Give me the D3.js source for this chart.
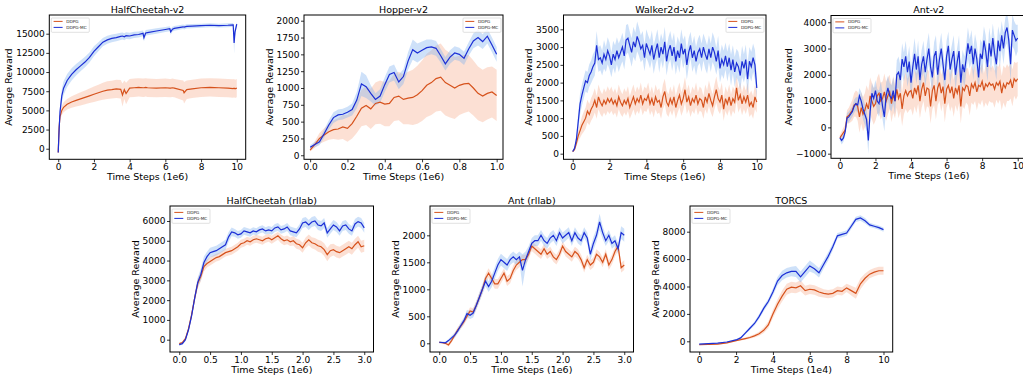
<!DOCTYPE html>
<html>
<head>
<meta charset="utf-8">
<script src="https://cdn.jsdelivr.net/npm/d3@7"></script>
<style>
  body { margin: 0; background: #fff; }
  svg { display: block; font-family: "DejaVu Sans", sans-serif; }
</style>
</head>
<body>
<svg id="chart" width="1023" height="375"></svg>
<script>
// ---- data ----
const seriesNames = ["DDPG", "DDPG-MC"];

// HalfCheetah-v2 (x in 1e6 steps)
const hcV2Steps = [0,0.05,0.1,0.2,0.3,0.5,0.75,1,1.25,1.5,1.75,2,2.25,2.5,2.75,3,3.25,3.5,3.6,3.7,3.8,4,4.25,4.5,4.75,4.8,4.9,5,5.5,6,6.25,6.3,6.4,6.5,7,7.05,7.2,7.5,8,8.5,9,9.5,9.8,9.85,9.9,10];
const hcV2Mc = [-500,2500,4800,6900,7900,8900,9700,10300,10800,11300,11900,12700,13300,13900,14200,14400,14500,14650,14700,14600,14750,14700,14850,14900,15050,14500,15100,15150,15350,15550,15650,15250,15600,15700,15900,15850,15950,16000,16050,16100,16050,16100,16150,13800,15200,16250];
const hcV2McSd = [100,500,800,900,900,850,800,750,700,680,660,650,600,550,520,500,480,460,450,450,430,420,400,400,380,500,380,360,350,320,320,400,320,300,300,300,280,280,260,260,250,250,250,1400,600,250];
const hcV2Ddpg = [-500,2800,4200,5000,5400,5800,6100,6300,6500,6700,6900,7100,7300,7500,7650,7700,7800,7750,7000,7700,7200,7900,7950,8000,7950,7950,8000,7950,7900,7950,7900,7900,7950,7900,7600,7300,7700,7800,7950,8000,7950,7900,7850,7900,7800,7900];
const hcV2DdpgSd = [100,400,500,600,650,700,750,800,850,900,950,1000,1050,1100,1150,1150,1200,1200,1500,1200,1400,1200,1200,1200,1200,1200,1200,1200,1200,1200,1200,1200,1200,1200,1300,1400,1200,1200,1200,1200,1200,1200,1200,1200,1200,1200];

// Hopper-v2
const hopperSteps = [0,0.025,0.05,0.075,0.1,0.125,0.15,0.175,0.2,0.225,0.25,0.275,0.3,0.325,0.35,0.375,0.4,0.425,0.45,0.475,0.5,0.525,0.55,0.575,0.6,0.625,0.65,0.675,0.7,0.725,0.75,0.775,0.8,0.825,0.85,0.875,0.9,0.925,0.95,0.975,1.0];
const hopperMc = [120,160,200,320,450,560,600,610,640,680,820,1060,1020,920,830,880,1050,1200,1230,1090,1170,1400,1570,1520,1560,1600,1610,1590,1480,1360,1460,1520,1500,1440,1580,1700,1750,1690,1770,1640,1500];
const hopperMcSd = [30,40,50,60,70,80,80,80,80,90,120,180,170,120,90,100,110,120,120,110,110,130,150,140,130,120,110,110,100,100,100,100,100,100,100,110,120,110,110,110,110];
const hopperDdpg = [75,160,250,300,350,380,390,420,400,470,580,700,740,690,770,790,760,770,860,880,830,850,860,900,960,1040,1080,1140,1160,1080,1040,1000,1040,1060,1070,1000,920,880,920,940,890];
const hopperDdpgSd = [20,50,80,100,120,140,160,180,200,220,250,270,290,300,310,320,330,340,350,360,370,390,410,430,450,470,480,490,500,490,480,460,440,430,420,410,400,390,390,380,380];

// shared grid for Walker2d-v2 and Ant-v2
const tenthSteps = [0,0.1,0.2,0.3,0.4,0.5,0.6,0.7,0.8,0.9,1,1.1,1.2,1.3,1.4,1.5,1.6,1.7,1.8,1.9,2,2.1,2.2,2.3,2.4,2.5,2.6,2.7,2.8,2.9,3,3.1,3.2,3.3,3.4,3.5,3.6,3.7,3.8,3.9,4,4.1,4.2,4.3,4.4,4.5,4.6,4.7,4.8,4.9,5,5.1,5.2,5.3,5.4,5.5,5.6,5.7,5.8,5.9,6,6.1,6.2,6.3,6.4,6.5,6.6,6.7,6.8,6.9,7,7.1,7.2,7.3,7.4,7.5,7.6,7.7,7.8,7.9,8,8.1,8.2,8.3,8.4,8.5,8.6,8.7,8.8,8.9,9,9.1,9.2,9.3,9.4,9.5,9.6,9.7,9.8,9.9,10];

// Walker2d-v2
const walkerMc = [60,150,400,900,1400,1650,1850,2050,2000,2200,
  2300,2450,2550,3050,2650,2700,2550,2800,2650,2900,
  2750,2500,2800,2650,2900,2700,2850,3000,2750,3200,
  3250,3050,2850,3150,3000,3300,3150,2950,3050,2700,
  3100,2950,2800,3050,2650,2900,3100,2700,3000,2800,
  3150,2600,2900,3050,2750,3000,2600,2900,2700,3100,
  2800,2950,2500,2850,3050,2700,2900,2600,2850,2950,
  2700,3000,2800,2650,2950,2700,3000,2850,2600,2900,
  2400,2650,2500,2750,2450,2700,2350,2650,2300,2550,
  2450,2200,2600,2400,2650,2100,2600,2450,2700,2500,
  1850];
const walkerMcSd = [30,60,150,250,300,300,300,300,300,320,
  320,350,350,400,350,350,350,400,350,380,
  380,350,380,400,380,400,380,400,380,420,
  400,380,400,420,400,420,400,380,400,380,
  400,380,400,420,400,380,400,420,380,400,
  420,400,380,400,420,400,380,400,420,400,
  400,380,420,400,380,400,420,400,380,400,
  400,380,420,400,380,400,420,400,380,420,
  400,420,400,380,420,400,440,400,420,400,
  420,400,440,400,420,450,400,420,400,420,
  300];
const walkerDdpg = [60,120,300,500,650,800,900,1000,1200,1100,
  1250,1350,1500,1300,1600,1450,1350,1500,1400,1550,
  1450,1550,1400,1500,1350,1600,1450,1350,1500,1400,
  1550,1300,1450,1600,1400,1550,1450,1650,1400,1550,
  1500,1650,1400,1550,1350,1600,1450,1500,1300,1600,
  1750,1450,1350,1550,1400,1600,1300,1500,1650,1400,
  1550,1800,1450,1600,1350,1550,1450,1650,1400,1550,
  1500,1300,1600,1450,1700,1500,1350,1600,1800,1550,
  1450,1650,1250,1550,1400,1600,1350,1550,1450,1850,
  1500,1650,1400,1600,1450,1650,1350,1450,1300,1600,
  1450];
const walkerDdpgSd = [20,40,100,150,200,250,280,300,320,300,
  320,330,340,320,350,330,320,340,330,350,
  330,340,320,340,330,350,330,320,340,330,
  350,320,340,350,330,340,330,350,320,340,
  330,350,320,340,330,350,330,340,320,350,
  360,330,320,340,330,350,320,340,350,330,
  340,360,330,350,320,340,330,350,320,340,
  330,320,350,330,360,340,320,350,370,340,
  330,350,320,340,330,350,320,340,330,360,
  340,350,320,340,330,350,320,330,320,340,
  300];

// Ant-v2
const antV2Mc = [-400,-500,-400,-150,350,400,500,600,800,900,
  850,1200,1000,700,500,300,-500,600,1300,1100,
  1400,1000,900,1300,800,400,1200,1500,1200,1100,
  1400,1000,2000,2100,1800,2600,2300,2700,2100,2500,
  1700,2300,2800,2200,2700,1800,2400,2700,2100,2600,
  3000,2300,1900,2700,2900,2000,2600,3000,2400,1800,
  2700,3100,2200,2600,2900,2000,2500,2900,1700,2400,
  2100,2600,3200,2800,3100,2400,3000,2600,1900,2800,
  2600,3300,2900,2300,3200,2700,3400,2800,2400,3300,
  2900,3500,3000,3600,3800,3300,2400,3700,3500,3300,
  3400];
const antV2McSd = [100,150,150,150,200,200,200,200,250,250,
  300,300,350,400,400,450,500,450,400,400,
  400,450,500,450,500,550,500,450,500,500,
  500,500,550,600,550,600,550,600,550,600,
  600,550,600,550,600,600,550,600,550,600,
  600,550,600,550,600,600,550,600,550,600,
  600,550,600,550,600,600,550,600,600,550,
  600,550,600,550,600,600,550,600,600,550,
  600,550,600,550,600,600,550,600,600,550,
  600,550,600,550,600,600,650,600,550,600,
  500];
const antV2Ddpg = [-400,-300,-200,-100,400,450,550,650,850,900,
  800,400,750,500,650,900,700,1200,1000,800,
  900,1200,1300,1000,1100,1350,1000,1200,1350,900,
  1250,1000,1450,1100,1300,700,1200,1400,1200,1350,
  1400,1100,1500,1300,1600,1000,1450,1700,1200,1500,
  1450,800,1400,1600,1000,1500,1700,1300,1550,900,
  1450,1600,1300,1550,1100,1500,1300,1600,800,1500,
  1400,1600,1550,1200,1650,1500,1700,1350,1600,1550,
  1750,1400,1650,1550,1700,1600,1650,1450,1700,1600,
  1750,1300,1650,1500,1700,1650,1800,1500,1850,1750,
  1850];
const antV2DdpgSd = [100,150,200,200,250,300,350,400,450,500,
  550,600,600,650,650,700,700,700,700,700,
  650,700,750,700,650,700,750,700,650,700,
  700,650,700,750,700,650,700,700,650,700,
  700,650,700,750,700,650,700,700,650,700,
  700,650,700,750,700,650,700,700,650,700,
  700,650,700,750,700,650,700,700,650,700,
  700,650,700,750,700,650,700,700,650,700,
  700,650,700,750,700,650,700,700,650,700,
  700,650,700,750,700,650,700,700,650,700,
  650];

// shared grid for the two rllab tasks (x in 1e6 steps)
const rllabSteps = [0,0.05,0.1,0.15,0.2,0.25,0.3,0.35,0.4,0.45,0.5,0.55,0.6,0.65,0.7,0.75,0.8,0.85,0.9,0.95,1,1.05,1.1,1.15,1.2,1.25,1.3,1.35,1.4,1.45,1.5,1.55,1.6,1.65,1.7,1.75,1.8,1.85,1.9,1.95,2,2.05,2.1,2.15,2.2,2.25,2.3,2.35,2.4,2.45,2.5,2.55,2.6,2.65,2.7,2.75,2.8,2.85,2.9,2.95,3];

// HalfCheetah (rllab)
const hcRllabMc = [-250,-200,0,500,1200,2100,2900,3300,3900,4200,
  4400,4450,4500,4600,4700,4800,5200,5450,5400,5300,
  5350,5500,5450,5400,5500,5450,5550,5600,5500,5550,
  5500,5650,5700,5550,5600,5700,5500,5450,5400,5600,
  5900,5950,5800,5950,6000,5800,5750,5900,5400,5600,
  5800,5700,5500,5750,5800,5600,5500,5850,5970,5900,
  5650];
const hcRllabMcSd = [50,60,80,100,150,200,250,300,300,250,
  250,250,250,250,250,250,250,220,200,200,
  200,200,200,200,180,180,180,180,180,200,
  200,200,200,200,200,200,220,220,220,220,
  250,250,250,250,250,250,250,250,250,250,
  250,250,250,250,250,250,250,250,250,250,
  250];
const hcRllabDdpg = [-200,-150,50,550,1250,2100,2850,3200,3700,3850,
  3950,4050,4150,4200,4300,4400,4450,4500,4600,4700,
  4850,4900,5000,4950,5050,5100,5050,5000,5100,5150,
  5050,5150,5250,5100,5000,5050,4950,5000,4850,4800,
  4650,4900,5050,4900,4850,4750,4700,4550,4300,4500,
  4550,4450,4400,4500,4600,4700,4600,4800,4950,4700,
  4750];
const hcRllabDdpgSd = [50,60,80,100,150,200,250,250,250,200,
  200,200,200,200,200,200,200,200,200,200,
  200,200,200,200,200,200,200,200,200,200,
  200,200,200,220,220,220,220,240,250,250,
  250,260,270,280,290,300,300,320,330,320,
  300,300,300,300,300,300,300,300,300,300,
  300];

// Ant (rllab)
const antRllabMc = [20,15,10,50,100,150,230,330,420,550,
  520,560,700,850,1000,1150,1050,1150,1300,1450,
  1550,1500,1450,1550,1600,1550,1600,1350,1550,1700,
  1850,1900,1900,2000,1900,1850,1950,2000,1900,2050,
  1950,2000,2050,1900,2050,1950,1900,2050,1950,1650,
  1850,2000,2250,2050,1900,2000,1850,1900,1750,2050,
  2000];
const antRllabMcSd = [20,20,20,30,40,50,50,60,60,70,
  70,80,80,90,90,100,100,110,110,110,
  110,110,110,100,100,100,100,300,150,100,
  100,100,100,100,100,100,100,100,100,100,
  100,100,100,100,100,100,100,100,100,120,
  120,120,150,120,100,100,100,100,100,120,
  120];
const antRllabDdpg = [20,10,0,-30,50,150,250,320,400,500,
  600,580,700,850,1000,1200,1300,1200,1100,1100,
  1200,1300,1150,1200,1350,1450,1500,1550,1550,1650,
  1800,1750,1700,1650,1750,1650,1700,1600,1550,1650,
  1800,1700,1650,1600,1700,1650,1550,1400,1550,1450,
  1500,1650,1600,1500,1650,1450,1550,1700,1800,1400,
  1450];
const antRllabDdpgSd = [20,20,20,30,40,40,50,50,60,60,
  70,70,80,80,80,80,90,90,90,90,
  90,90,90,90,90,90,90,90,90,90,
  90,90,90,90,90,90,90,90,90,90,
  90,90,90,90,90,90,90,90,90,90,
  90,90,90,90,90,90,90,90,90,90,
  90];

// TORCS (x in 1e4 steps)
const torcsSteps = [0,0.5,1,1.5,2,2.25,2.5,2.75,3,3.25,3.5,3.75,4,4.25,4.5,4.75,5,5.25,5.5,5.75,6,6.25,6.5,6.75,7,7.25,7.5,7.75,8,8.25,8.5,8.75,9,9.25,9.5,9.75,10];
const torcsMc = [-200,-170,-140,-50,100,250,600,950,1300,1800,2400,2900,3600,4400,4800,5000,5100,5100,4700,5100,5500,5300,5000,5600,6200,6900,7700,7800,7900,8400,8900,9000,8800,8500,8400,8300,8150];
const torcsMcSd = [30,30,30,40,60,80,100,120,150,180,200,200,250,300,350,350,350,400,400,400,400,350,350,300,300,250,200,200,200,200,200,200,200,150,150,150,150];
const torcsDdpg = [-250,-230,-200,-120,50,120,200,280,400,550,800,1200,2000,2700,3300,3800,3950,3900,4050,3700,3800,3750,3600,3500,3450,3500,3700,3650,3900,3700,3500,4200,4600,4900,5050,5150,5150];
const torcsDdpgSd = [30,30,30,40,50,60,80,100,120,150,200,250,300,350,400,400,400,400,400,350,350,350,350,300,300,300,300,300,300,350,400,400,350,300,300,300,300];

// tick values
const tenTicks = [0, 2, 4, 6, 8, 10];
const unitTicks = [0, 0.2, 0.4, 0.6, 0.8, 1.0];
const threeTicks = [0, 0.5, 1, 1.5, 2, 2.5, 3];
const hcV2YTicks = [0, 2500, 5000, 7500, 10000, 12500, 15000];
const hopperYTicks = [0, 250, 500, 750, 1000, 1250, 1500, 1750, 2000];
const walkerYTicks = [0, 500, 1000, 1500, 2000, 2500, 3000, 3500];
const antV2YTicks = [-1000, 0, 1000, 2000, 3000, 4000];
const hcRllabYTicks = [0, 1000, 2000, 3000, 4000, 5000, 6000];
const antRllabYTicks = [0, 500, 1000, 1500, 2000];
const torcsYTicks = [0, 2000, 4000, 6000, 8000];

// ---- layout ----
const panels = [
  { title: "HalfCheetah-v2", steps: hcV2Steps, ddpg: hcV2Ddpg, ddpgSd: hcV2DdpgSd, mc: hcV2Mc, mcSd: hcV2McSd,
    xTicks: tenTicks, yTicks: hcV2YTicks, xFmt: "d", unit: "1e6",
    box: [49.3, 15, 245.7, 159.3], xDom: [-0.5, 10.5], yDom: [-1380, 17440], legend: "left" },
  { title: "Hopper-v2", steps: hopperSteps, ddpg: hopperDdpg, ddpgSd: hopperDdpgSd, mc: hopperMc, mcSd: hopperMcSd,
    xTicks: unitTicks, yTicks: hopperYTicks, xFmt: ".1f", unit: "1e6",
    box: [304, 15, 503, 159.3], xDom: [-0.033, 1.034], yDom: [-60, 2085], legend: "right" },
  { title: "Walker2d-v2", steps: tenthSteps, ddpg: walkerDdpg, ddpgSd: walkerDdpgSd, mc: walkerMc, mcSd: walkerMcSd,
    xTicks: tenTicks, yTicks: walkerYTicks, xFmt: "d", unit: "1e6",
    box: [563.5, 15, 766, 159.3], xDom: [-0.5, 10.5], yDom: [-158, 3903], legend: "right" },
  { title: "Ant-v2", steps: tenthSteps, ddpg: antV2Ddpg, ddpgSd: antV2DdpgSd, mc: antV2Mc, mcSd: antV2McSd,
    xTicks: tenTicks, yTicks: antV2YTicks, xFmt: "d", unit: "1e6",
    box: [831, 15.5, 1026.6, 158.3], xDom: [-0.5, 10.5], yDom: [-1176, 4256], legend: "left" },
  { title: "HalfCheetah (rllab)", steps: rllabSteps, ddpg: hcRllabDdpg, ddpgSd: hcRllabDdpgSd, mc: hcRllabMc, mcSd: hcRllabMcSd,
    xTicks: threeTicks, yTicks: hcRllabYTicks, xFmt: ".1f", unit: "1e6",
    box: [170, 206, 373.5, 352], xDom: [-0.15, 3.15], yDom: [-622, 6758], legend: "left" },
  { title: "Ant (rllab)", steps: rllabSteps, ddpg: antRllabDdpg, ddpgSd: antRllabDdpgSd, mc: antRllabMc, mcSd: antRllabMcSd,
    xTicks: threeTicks, yTicks: antRllabYTicks, xFmt: ".1f", unit: "1e6",
    box: [430, 206, 633.5, 352], xDom: [-0.15, 3.15], yDom: [-161, 2543], legend: "left" },
  { title: "TORCS", steps: torcsSteps, ddpg: torcsDdpg, ddpgSd: torcsDdpgSd, mc: torcsMc, mcSd: torcsMcSd,
    xTicks: tenTicks, yTicks: torcsYTicks, xFmt: "d", unit: "1e4",
    box: [690, 206, 892.7, 352], xDom: [-0.5, 10.5], yDom: [-781, 9876], legend: "left" }
];

const ddpgColor = "#d6521c", mcColor = "#1c2fd6";
const ddpgFill = "#f5a07a", mcFill = "#7fb0f0";

const svg = d3.select("#chart");
svg.append("rect").attr("width", 1023).attr("height", 375).attr("fill", "#fff");

panels.forEach((p, k) => {
  const [x0, y0, x1, y1] = p.box;
  const x = d3.scaleLinear().domain(p.xDom).range([x0, x1]);
  const y = d3.scaleLinear().domain(p.yDom).range([y1, y0]);
  const g = svg.append("g");

  svg.append("clipPath").attr("id", "clip" + k)
    .append("rect").attr("x", x0).attr("y", y0).attr("width", x1 - x0).attr("height", y1 - y0);
  const plot = g.append("g").attr("clip-path", `url(#clip${k})`);

  const band = (vals, sd) => d3.area()
    .x((d, i) => x(p.steps[i]))
    .y0((d, i) => y(vals[i] - sd[i]))
    .y1((d, i) => y(vals[i] + sd[i]))(vals);
  const line = vals => d3.line().x((d, i) => x(p.steps[i])).y(d => y(d))(vals);

  plot.append("path").attr("d", band(p.ddpg, p.ddpgSd)).attr("fill", ddpgFill).attr("fill-opacity", 0.32);
  plot.append("path").attr("d", band(p.mc, p.mcSd)).attr("fill", mcFill).attr("fill-opacity", 0.38);
  plot.append("path").attr("d", line(p.ddpg)).attr("fill", "none").attr("stroke", ddpgColor).attr("stroke-width", 1.2);
  plot.append("path").attr("d", line(p.mc)).attr("fill", "none").attr("stroke", mcColor).attr("stroke-width", 1.2);

  // axes
  const xAxis = g.append("g").attr("transform", `translate(0,${y1})`)
    .call(d3.axisBottom(x).tickValues(p.xTicks).tickFormat(d3.format(p.xFmt)).tickSize(3).tickPadding(1.5));
  const yAxis = g.append("g").attr("transform", `translate(${x0},0)`)
    .call(d3.axisLeft(y).tickValues(p.yTicks).tickFormat(d3.format("d")).tickSize(3).tickPadding(1.5));
  [xAxis, yAxis].forEach(a => {
    a.select(".domain").remove();
    a.selectAll("line").attr("stroke", "#000").attr("stroke-width", 0.8);
    a.selectAll("text").attr("fill", "#000").style("font-size", "9px").style("font-family", "DejaVu Sans");
  });

  g.append("rect").attr("x", x0).attr("y", y0).attr("width", x1 - x0).attr("height", y1 - y0)
    .attr("fill", "none").attr("stroke", "#000").attr("stroke-width", 1);

  // labels
  g.append("text").attr("x", (x0 + x1) / 2).attr("y", y0 - 2.5).attr("text-anchor", "middle")
    .style("font-size", "9.5px").text(p.title);
  g.append("text").attr("x", (x0 + x1) / 2).attr("y", y1 + 21).attr("text-anchor", "middle")
    .style("font-size", "9.5px").text(`Time Steps (${p.unit})`);
  // getBBox is in the axis group's own coordinates, so add its offset
  const bb = yAxis.node().getBBox();
  const lx = x0 + bb.x - 3.7, ly = (y0 + y1) / 2;
  g.append("text").attr("transform", `translate(${lx},${ly}) rotate(-90)`).attr("text-anchor", "middle")
    .style("font-size", "9.5px").text("Average Reward");

  // legend
  const lw = 38, lh = 14.3;
  const lgx = p.legend === "left" ? x0 + 2 : x1 - 2 - lw;
  const lgy = y0 + 3;
  const lg = g.append("g").attr("transform", `translate(${lgx},${lgy})`);
  lg.append("rect").attr("width", lw).attr("height", lh).attr("rx", 1)
    .attr("fill", "#fff").attr("fill-opacity", 0.8).attr("stroke", "#ccc").attr("stroke-width", 0.6);
  [ddpgColor, mcColor].forEach((c, i) => {
    const ry = 3.4 + i * 6;
    lg.append("line").attr("x1", 2.3).attr("x2", 11.3).attr("y1", ry).attr("y2", ry)
      .attr("stroke", c).attr("stroke-width", 1);
    lg.append("text").attr("x", 15).attr("y", ry + 1.5).style("font-size", "4.2px").attr("fill", "#222")
      .text(seriesNames[i]);
  });
});
</script>
</body>
</html>
